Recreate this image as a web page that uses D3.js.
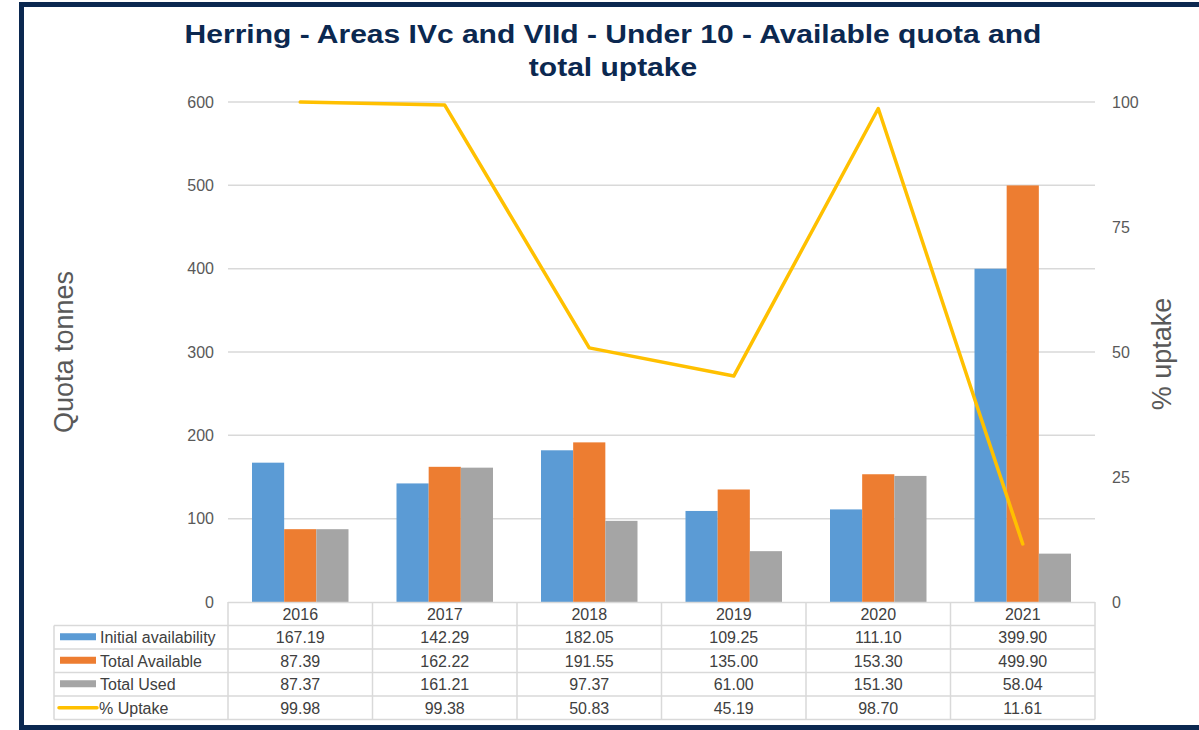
<!DOCTYPE html>
<html>
<head>
<meta charset="utf-8">
<script src="https://cdn.jsdelivr.net/npm/d3@7"></script>
<style>
  body { margin: 0; background: #fff; }
  svg { display: block; font-family: "Liberation Sans", Arial, sans-serif; }
</style>
</head>
<body>
<svg id="canvas"></svg>
<script>
// chart data
const years = ["2016", "2017", "2018", "2019", "2020", "2021"];
const initialAvail = [167.19, 142.29, 182.05, 109.25, 111.10, 399.90];
const totalAvail = [87.39, 162.22, 191.55, 135.00, 153.30, 499.90];
const totalUsed = [87.37, 161.21, 97.37, 61.00, 151.30, 58.04];
const uptake = [99.98, 99.38, 50.83, 45.19, 98.70, 11.61];
const leftTicks = [0, 100, 200, 300, 400, 500, 600];
const rightTicks = [0, 25, 50, 75, 100];

const seriesNames = ["Initial availability", "Total Available", "Total Used"];
const seriesColors = ["#5B9BD5", "#ED7D31", "#A5A5A5"];
const lineColor = "#FFC000";

function drawChart() {
    const width = 1199;
    const height = 730;
    const plot = { left: 228, right: 1095, top: 102, bottom: 602 };
    const textColor = "#595959";
    const gridColor = "#D9D9D9";

    const svg = d3.select("#canvas")
        .attr("width", width)
        .attr("height", height);

    // outer frame
    svg.append("rect")
        .attr("x", 21.5).attr("y", 4.5)
        .attr("width", 1300).attr("height", 723)
        .attr("fill", "none")
        .attr("stroke", "#0B2850")
        .attr("stroke-width", 5);

    const x = d3.scaleBand()
        .domain(years)
        .range([plot.left, plot.right]);

    // bars cover ~2/3 of each category
    const xInner = d3.scaleBand()
        .domain(seriesNames)
        .range([24, x.bandwidth() - 24]);

    const y = d3.scaleLinear()
        .domain([0, 600])
        .range([plot.bottom, plot.top]);

    const y2 = d3.scaleLinear()
        .domain([0, 100])
        .range([plot.bottom, plot.top]);

    // title (stretched a bit wider, like the original)
    const title = svg.append("text")
        .attr("transform", "translate(613,0) scale(1.2,1)")
        .attr("text-anchor", "middle")
        .attr("fill", "#0B2850")
        .style("font-size", "25px")
        .style("font-weight", "bold");
    title.append("tspan").attr("x", 0).attr("y", 43)
        .text("Herring - Areas IVc and VIId - Under 10 - Available quota and");
    title.append("tspan").attr("x", 0).attr("y", 76)
        .text("total uptake");

    // gridlines
    svg.append("g")
        .selectAll("line")
        .data(leftTicks.slice(1))
        .enter()
        .append("line")
        .attr("x1", plot.left).attr("x2", plot.right)
        .attr("y1", d => y(d)).attr("y2", d => y(d))
        .attr("stroke", gridColor)
        .attr("stroke-width", 1.5);

    // left axis
    const leftAxis = svg.append("g")
        .attr("transform", `translate(${plot.left - 14},0)`)
        .call(d3.axisLeft(y).tickValues(leftTicks).tickSize(0).tickPadding(0));
    leftAxis.select(".domain").remove();
    leftAxis.selectAll("text")
        .attr("fill", textColor)
        .style("font-size", "16px")
        .style("font-family", "Liberation Sans, Arial, sans-serif");

    // right axis
    const rightAxis = svg.append("g")
        .attr("transform", `translate(${plot.right + 17},0)`)
        .call(d3.axisRight(y2).tickValues(rightTicks).tickSize(0).tickPadding(0));
    rightAxis.select(".domain").remove();
    rightAxis.selectAll("text")
        .attr("fill", textColor)
        .style("font-size", "16px")
        .style("font-family", "Liberation Sans, Arial, sans-serif");

    // axis titles
    svg.append("text")
        .attr("transform", "translate(73,352) rotate(-90)")
        .attr("text-anchor", "middle")
        .attr("fill", textColor)
        .style("font-size", "27px")
        .text("Quota tonnes");

    svg.append("text")
        .attr("transform", "translate(1171,354) rotate(-90)")
        .attr("text-anchor", "middle")
        .attr("fill", textColor)
        .style("font-size", "27px")
        .text("% uptake");

    // bars
    const barSeries = [initialAvail, totalAvail, totalUsed];
    const barData = [];
    years.forEach((yr, i) => {
        barSeries.forEach((vals, s) => {
            barData.push({ year: yr, series: seriesNames[s], value: vals[i], color: seriesColors[s] });
        });
    });

    svg.append("g")
        .selectAll("rect")
        .data(barData)
        .enter()
        .append("rect")
        .attr("x", d => x(d.year) + xInner(d.series))
        .attr("y", d => y(d.value))
        .attr("width", xInner.bandwidth())
        .attr("height", d => y(0) - y(d.value))
        .attr("fill", d => d.color);

    // uptake line
    const line = d3.line()
        .x((d, i) => x(years[i]) + x.bandwidth() / 2)
        .y(d => y2(d));

    svg.append("path")
        .datum(uptake)
        .attr("d", line)
        .attr("fill", "none")
        .attr("stroke", lineColor)
        .attr("stroke-width", 3.5)
        .attr("stroke-linejoin", "round")
        .attr("stroke-linecap", "round");

    // data table
    const rowH = 23.5;
    const tableTop = plot.bottom;
    const labelLeft = 54;
    const tableColor = "#404040";
    const tableRows = [
        { name: seriesNames[0], vals: initialAvail, color: seriesColors[0], kind: "bar" },
        { name: seriesNames[1], vals: totalAvail, color: seriesColors[1], kind: "bar" },
        { name: seriesNames[2], vals: totalUsed, color: seriesColors[2], kind: "bar" },
        { name: "% Uptake", vals: uptake, color: lineColor, kind: "line" }
    ];
    const tableBottom = tableTop + rowH * (tableRows.length + 1);
    const tbl = svg.append("g");

    // horizontal rules
    tbl.append("line")
        .attr("x1", plot.left).attr("x2", plot.right)
        .attr("y1", tableTop + 0.5).attr("y2", tableTop + 0.5)
        .attr("stroke", gridColor).attr("stroke-width", 1.5);
    for (let r = 1; r <= tableRows.length + 1; r++) {
        tbl.append("line")
            .attr("x1", labelLeft).attr("x2", plot.right)
            .attr("y1", tableTop + r * rowH).attr("y2", tableTop + r * rowH)
            .attr("stroke", gridColor).attr("stroke-width", 1.5);
    }
    // vertical rules
    years.forEach(yr => {
        tbl.append("line")
            .attr("x1", x(yr)).attr("x2", x(yr))
            .attr("y1", tableTop).attr("y2", tableBottom)
            .attr("stroke", gridColor).attr("stroke-width", 1.5);
    });
    tbl.append("line")
        .attr("x1", plot.right).attr("x2", plot.right)
        .attr("y1", tableTop).attr("y2", tableBottom)
        .attr("stroke", gridColor).attr("stroke-width", 1.5);
    tbl.append("line")
        .attr("x1", labelLeft).attr("x2", labelLeft)
        .attr("y1", tableTop + rowH).attr("y2", tableBottom)
        .attr("stroke", gridColor).attr("stroke-width", 1.5);

    // header (years)
    tbl.selectAll("text.year")
        .data(years)
        .enter()
        .append("text")
        .attr("class", "year")
        .attr("x", d => x(d) + x.bandwidth() / 2)
        .attr("y", tableTop + rowH / 2 + 6)
        .attr("text-anchor", "middle")
        .attr("fill", tableColor)
        .style("font-size", "16px")
        .text(d => d);

    tableRows.forEach((row, r) => {
        const cy = tableTop + (r + 1) * rowH + rowH / 2;
        if (row.kind === "bar") {
            tbl.append("rect")
                .attr("x", 60).attr("y", cy - 4)
                .attr("width", 36).attr("height", 7)
                .attr("fill", row.color);
        } else {
            tbl.append("line")
                .attr("x1", 59).attr("x2", 97)
                .attr("y1", cy).attr("y2", cy)
                .attr("stroke", row.color)
                .attr("stroke-width", 3.5)
                .attr("stroke-linecap", "round");
        }
        tbl.append("text")
            .attr("x", row.kind === "bar" ? 100 : 99)
            .attr("y", cy + 6)
            .attr("fill", tableColor)
            .style("font-size", "16px")
            .text(row.name);

        tbl.selectAll(null)
            .data(row.vals)
            .enter()
            .append("text")
            .attr("x", (d, i) => x(years[i]) + x.bandwidth() / 2)
            .attr("y", cy + 6)
            .attr("text-anchor", "middle")
            .attr("fill", tableColor)
            .style("font-size", "16px")
            .text(d => d.toFixed(2));
    });
}

drawChart();
</script>
</body>
</html>
